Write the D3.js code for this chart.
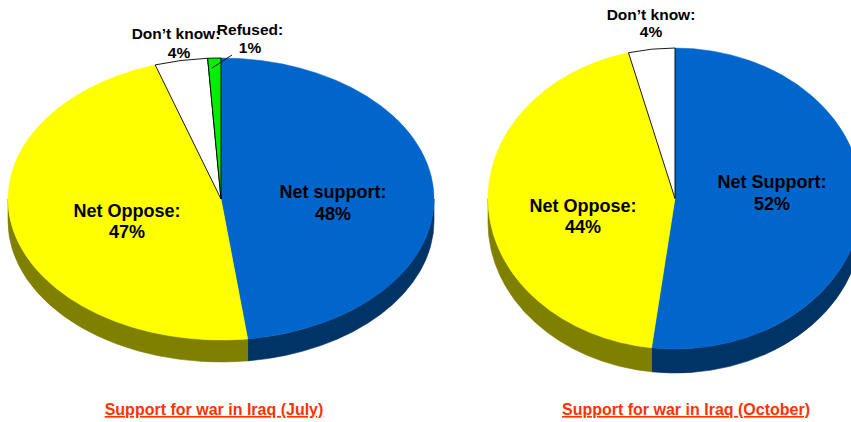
<!DOCTYPE html>
<html>
<head>
<meta charset="utf-8">
<script src="https://cdn.jsdelivr.net/npm/d3@7"></script>
<style>
  html, body { margin: 0; padding: 0; background: #fff; }
  svg { display: block; font-family: Arial, "Liberation Sans", sans-serif; }
</style>
</head>
<body>
<svg id="chart" width="851" height="422"></svg>
<script>
// Survey results: support for the war in Iraq
const julyCategories = ["Net support:", "Net Oppose:", "Don\u2019t know:", "Refused:"];
const julyValues = [48, 47, 4, 1];
const octCategories = ["Net Support:", "Net Oppose:", "Don\u2019t know:"];
const octValues = [52, 44, 4];
const titles = ["Support for war in Iraq (July)", "Support for war in Iraq (October)"];

// Fill colours for the top face and the darker side wall of each category
const topColors = ["#0066cc", "#ffff00", "#ffffff", "#00ee00"];
const sideColors = ["#003366", "#808000", "#bfbfbf", "#007700"];

const svg = d3.select("#chart");

// Layout of each pie: ellipse centre, radii, wall depth, label anchors
const pies = [
  {
    categories: julyCategories, values: julyValues, title: titles[0],
    cx: 221, cy: 199, rx: 213, ry: 141, depth: 22,
    titleX: 214, titleY: 415,
    labels: [
      { x: 333, y: 198, dy: 22, size: 18 },
      { x: 127, y: 217, dy: 21, size: 18 },
      { x: 176, y: 39, dy: 19, size: 15.5, vx: 179 },
      { x: 250, y: 35, dy: 18, size: 15.5, leader: [[232, 55], [212, 68]] }
    ]
  },
  {
    categories: octCategories, values: octValues, title: titles[1],
    cx: 675, cy: 198.5, rx: 187, ry: 150.5, depth: 24,
    titleX: 686, titleY: 415,
    labels: [
      { x: 772, y: 188, dy: 22, size: 18 },
      { x: 583, y: 212, dy: 21, size: 18 },
      { x: 651, y: 20, dy: 17, size: 15.5 }
    ]
  }
];

const pieLayout = d3.pie().sort(null).value(d => d);

pies.forEach(cfg => {
  const { cx, cy, rx, ry, depth } = cfg;
  const arcs = pieLayout(cfg.values);
  const pt = (a, dz = 0) => [cx + rx * Math.sin(a), cy - ry * Math.cos(a) + dz];
  const g = svg.append("g");

  // Side walls: only the front half of the rim (angles between π/2 and 3π/2) is visible
  arcs.forEach((d, i) => {
    const s = Math.max(d.startAngle, Math.PI / 2);
    const e = Math.min(d.endAngle, 3 * Math.PI / 2);
    if (e <= s) return;
    const p0 = pt(s), p1 = pt(e), q1 = pt(e, depth), q0 = pt(s, depth);
    const large = (e - s) > Math.PI ? 1 : 0;
    const path = `M${p0}A${rx},${ry} 0 ${large} 1 ${p1}L${q1}A${rx},${ry} 0 ${large} 0 ${q0}Z`;
    g.append("path").attr("d", path)
      .attr("fill", sideColors[i]).attr("stroke", sideColors[i]).attr("stroke-width", 0.6);
  });

  // Top faces
  arcs.forEach((d, i) => {
    const p0 = pt(d.startAngle), p1 = pt(d.endAngle);
    const large = (d.endAngle - d.startAngle) > Math.PI ? 1 : 0;
    const path = `M${cx},${cy}L${p0}A${rx},${ry} 0 ${large} 1 ${p1}Z`;
    const outlined = i >= 2;
    g.append("path").attr("d", path)
      .attr("fill", topColors[i])
      .attr("stroke", outlined ? "#000" : topColors[i])
      .attr("stroke-width", outlined ? 0.9 : 0.5)
      .attr("stroke-linejoin", "round");
  });

  // Category labels with their percentages
  arcs.forEach((d, i) => {
    const L = cfg.labels[i];
    if (L.leader) {
      g.append("line")
        .attr("x1", L.leader[0][0]).attr("y1", L.leader[0][1])
        .attr("x2", L.leader[1][0]).attr("y2", L.leader[1][1])
        .attr("stroke", "#000").attr("stroke-width", 0.9);
    }
    const t = g.append("text")
      .attr("text-anchor", "middle")
      .attr("font-weight", "bold")
      .attr("font-size", L.size)
      .attr("fill", "#000");
    t.append("tspan").attr("x", L.x).attr("y", L.y).text(cfg.categories[i]);
    t.append("tspan").attr("x", L.vx || L.x).attr("y", L.y + L.dy).text(cfg.values[i] + "%");
  });

  // Chart caption
  svg.append("text")
    .attr("x", cfg.titleX).attr("y", cfg.titleY)
    .attr("text-anchor", "middle")
    .attr("font-weight", "bold")
    .attr("font-size", 16)
    .attr("fill", "#ff3300")
    .attr("text-decoration", "underline")
    .text(cfg.title);
});
</script>
</body>
</html>
